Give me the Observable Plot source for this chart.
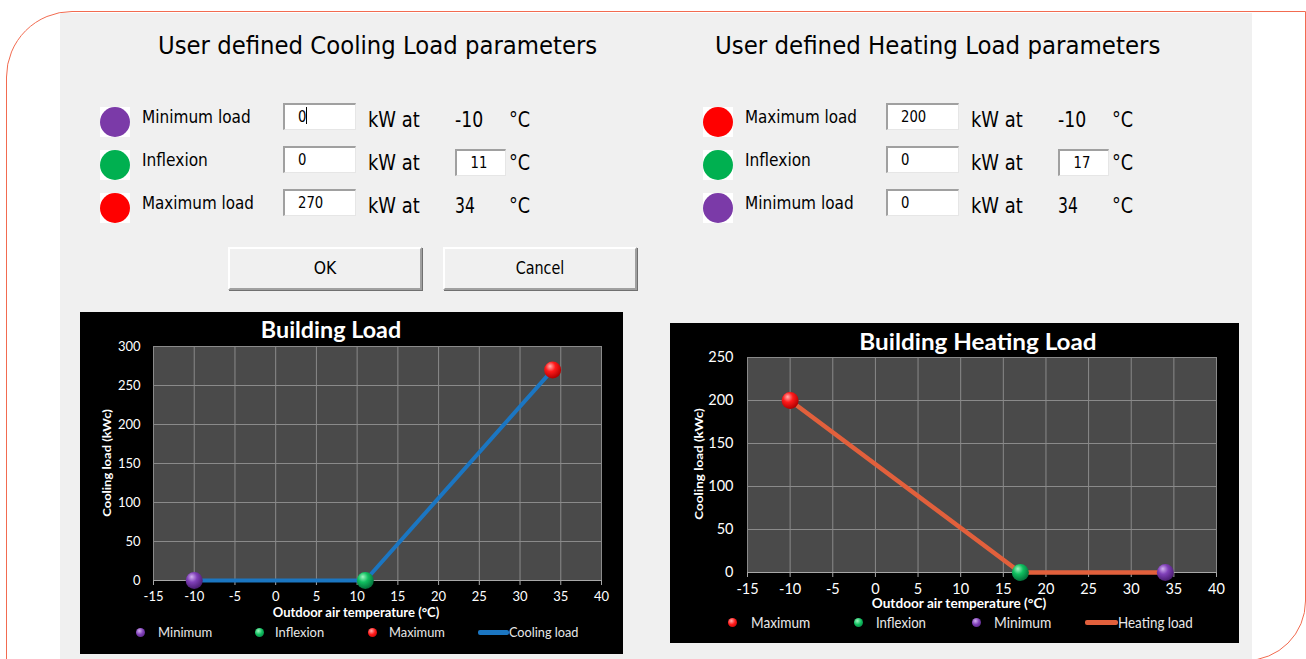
<!DOCTYPE html>
<html>
<head>
<meta charset="utf-8">
<script src="https://cdn.jsdelivr.net/npm/d3@7"></script>
<script src="https://cdn.jsdelivr.net/npm/@observablehq/plot@0.6"></script>
<style>
  body { margin:0; background:#fff; width:1306px; height:659px; overflow:hidden; position:relative; }
  .abs { position:absolute; }
  #border { left:6px; top:11px; width:1300px; height:650px; box-sizing:border-box; border:1.5px solid #f26b50; border-radius:66px 0 60px 0; }
  #panel { left:60px; top:13px; width:1192px; height:646px; background:#f0f0f0; }
  .txt { position:absolute; white-space:nowrap; line-height:1; }
  .input { position:absolute; background:#fff; box-sizing:border-box;
           border-top:2px solid #a0a0a0; border-left:2px solid #a0a0a0;
           border-right:1px solid #e6e6e6; border-bottom:1px solid #e6e6e6; }
  .btn { position:absolute; background:#f0f0f0; box-sizing:border-box;
         border-top:2px solid #ffffff; border-left:2px solid #ffffff;
         border-right:2px solid #a0a0a0; border-bottom:2px solid #a0a0a0;
         box-shadow:1px 1px 0 #707070; }
  .chartbox { position:absolute; background:#000; }
</style>
</head>
<body>
<div id="border" class="abs"></div>
<div id="panel" class="abs"></div>
<script>
// ---------------- data ----------------
const xTicks = [-15, -10, -5, 0, 5, 10, 15, 20, 25, 30, 35, 40];
const coolYTicks = [0, 50, 100, 150, 200, 250, 300];
const heatYTicks = [0, 50, 100, 150, 200, 250];

const coolPointNames = ["Minimum", "Inflexion", "Maximum"];
const coolTemps = [-10, 11, 34];
const coolLoads = [0, 0, 270];
const coolRowLabels = ["Minimum load", "Inflexion", "Maximum load"];
const coolLegend = ["Minimum", "Inflexion", "Maximum", "Cooling load"];

const heatPointNames = ["Maximum", "Inflexion", "Minimum"];
const heatTemps = [-10, 17, 34];
const heatLoads = [200, 0, 0];
const heatRowLabels = ["Maximum load", "Inflexion", "Minimum load"];
const heatLegend = ["Maximum", "Inflexion", "Minimum", "Heating load"];

const dialogTitles = ["User defined Cooling Load parameters", "User defined Heating Load parameters"];
const chartTitles = ["Building Load", "Building Heating Load"];
const yAxisLabel = "Cooling load (kWc)";
const xAxisLabel = "Outdoor air temperature (°C)";
const unitText = "kW at";
const degText = "°C";
const buttonLabels = ["OK", "Cancel"];

// ---------------- styles ----------------
const dialogFont = "'DejaVu Sans', Tahoma, sans-serif";
const chartFont = "Lato, 'Open Sans', sans-serif";
const dotColors = { Minimum: "#7b3aa8", Inflexion: "#00b050", Maximum: "#ff0000" };
const sphere = {
  Minimum:   ["#d2b0f0", "#8040b8", "#4a1c72"],
  Inflexion: ["#a0f5c0", "#10c060", "#03703a"],
  Maximum:   ["#ffb0b0", "#ff1a1a", "#b00000"]
};

const root = document.body;

function addText(parent, o) {
  const s = document.createElement("span");
  s.className = "txt";
  s.textContent = o.text;
  s.style.fontFamily = o.font;
  s.style.fontSize = o.size + "px";
  s.style.fontWeight = o.weight || 400;
  s.style.color = o.color || "#000";
  parent.appendChild(s);
  const nat = s.offsetWidth;
  const k = o.w ? o.w / nat : (o.k || 1);
  s.style.top = o.cy + "px";
  if (o.rot) {
    s.style.left = o.cx + "px";
    s.style.transformOrigin = "center";
    s.style.transform = `translate(-50%,-50%) rotate(-90deg) scaleX(${k})`;
  } else if (o.cx != null) {
    s.style.left = o.cx + "px";
    s.style.transformOrigin = "center";
    s.style.transform = `translate(-50%,-50%) scaleX(${k})`;
  } else {
    s.style.left = o.x + "px";
    s.style.transformOrigin = "left center";
    s.style.transform = `translateY(-50%) scaleX(${k})`;
  }
  return s;
}
function addDiv(parent, cls, l, t, w, h, extra) {
  const d = document.createElement("div");
  if (cls) d.className = cls;
  d.style.position = "absolute";
  d.style.left = l + "px"; d.style.top = t + "px";
  d.style.width = w + "px"; d.style.height = h + "px";
  if (extra) Object.assign(d.style, extra);
  parent.appendChild(d);
  return d;
}

// ---------------- dialogs ----------------
function dialog(cfg) {
  const dx = cfg.dx;
  addText(root, { text: cfg.title, x: cfg.titleX, cy: 46, size: 24, w: cfg.titleW, font: dialogFont });
  const rowTops = [103, 146, 189];
  cfg.rows.forEach((label, i) => {
    const top = rowTops[i];
    const sq = addDiv(root, null, 100 + dx, top + 4, 30, 30, { background: "#fff" });
    addDiv(sq, null, 0, 0, 30, 30, { background: dotColors[cfg.names[i]], borderRadius: "50%" });
    addText(root, { text: label, x: 142 + dx, cy: top + 14, size: 18, w: cfg.labelW[i], font: dialogFont });
    addDiv(root, "input", 283 + dx, top, 73, 27);
    addText(root, { text: String(cfg.loads[i]), x: 298 + dx, cy: top + 13.5, size: 15, k: 0.88, font: dialogFont });
    addText(root, { text: unitText, x: 368 + dx, cy: top + 16.5, size: 21, w: 52, font: dialogFont });
    if (i === 1) {
      addDiv(root, "input", 455 + dx, top + 3, 51, 27);
      addText(root, { text: String(cfg.temps[i]), cx: 479 + dx, cy: top + 17, size: 15, k: 0.88, font: dialogFont });
    } else {
      const t = String(cfg.temps[i]);
      addText(root, { text: t, x: 455 + dx, cy: top + 16.5, size: 21, w: t.length === 3 ? 28 : 20, font: dialogFont });
    }
    addText(root, { text: degText, x: 509 + dx, cy: top + 16.5, size: 21, w: 21, font: dialogFont });
  });
}
dialog({ dx: 0, title: dialogTitles[0], titleX: 158, titleW: 439, rows: coolRowLabels, names: coolPointNames,
         loads: coolLoads, temps: coolTemps, labelW: [109, 66, 112] });
dialog({ dx: 603, title: dialogTitles[1], titleX: 715, titleW: 445, rows: heatRowLabels, names: heatPointNames,
         loads: heatLoads, temps: heatTemps, labelW: [112, 66, 109] });
// text cursor in the first field
addDiv(root, null, 306, 107, 1, 17, { background: "#000" });
// buttons
addDiv(root, "btn", 228, 247, 194, 43);
addDiv(root, "btn", 443, 247, 194, 43);
addText(root, { text: buttonLabels[0], cx: 325, cy: 267.5, size: 17, w: 23, font: dialogFont });
addText(root, { text: buttonLabels[1], cx: 540, cy: 267.5, size: 17, w: 49, font: dialogFont });

// ---------------- charts ----------------
function chart(cfg) {
  const box = addDiv(root, "chartbox", cfg.left, cfg.top, cfg.width, cfg.height);
  const pts = cfg.names.map((n, i) => ({ name: n, t: cfg.temps[i], load: cfg.loads[i] }));
  const linePts = [...pts].sort((a, b) => a.t - b.t);
  const defs = () => {
    const d = d3.create("svg:defs");
    for (const n of Object.keys(sphere)) {
      const g = d.append("radialGradient").attr("id", `${cfg.id}-${n}`)
        .attr("cx", "40%").attr("cy", "35%").attr("r", "65%").attr("fx", "35%").attr("fy", "28%");
      g.append("stop").attr("offset", "0%").attr("stop-color", sphere[n][0]);
      g.append("stop").attr("offset", "45%").attr("stop-color", sphere[n][1]);
      g.append("stop").attr("offset", "100%").attr("stop-color", sphere[n][2]);
    }
    return d.node();
  };
  const fmt = d => String(d);
  const plot = Plot.plot({
    width: cfg.width, height: cfg.height,
    marginLeft: cfg.m[0], marginRight: cfg.m[1], marginTop: cfg.m[2], marginBottom: cfg.m[3],
    style: { background: "transparent", color: "#fff", fontFamily: chartFont, overflow: "visible" },
    x: { domain: [-15, 40] },
    y: { domain: [0, cfg.ymax] },
    marks: [
      defs,
      Plot.frame({ fill: "#4a4a4a", stroke: null }),
      Plot.gridX(xTicks, { stroke: "#8a8a8a", strokeOpacity: 1, strokeWidth: 1 }),
      Plot.gridY(cfg.yTicks, { stroke: "#8a8a8a", strokeOpacity: 1, strokeWidth: 1 }),
      Plot.ruleY([0], { stroke: "#a8a8a8", strokeWidth: 1.2 }),
      Plot.axisX(xTicks, { tickSize: 5, tickPadding: cfg.xPad, stroke: "#a8a8a8", fill: "#fff",
                           fontSize: cfg.tickSize, tickFormat: fmt, label: null }),
      Plot.axisY(cfg.yTicks, { tickSize: 0, tickPadding: cfg.yPad, fill: "#fff",
                               fontSize: cfg.tickSize, tickFormat: fmt, label: null }),
      Plot.line(linePts, { x: "t", y: "load", stroke: cfg.lineColor, strokeWidth: cfg.lineWidth,
                           strokeLinecap: "round", strokeLinejoin: "round" }),
      ...pts.map(p => Plot.dot([p], { x: "t", y: "load", r: 8.5, fill: `url(#${cfg.id}-${p.name})`, stroke: null }))
    ]
  });
  plot.style.position = "absolute";
  plot.style.left = "0px";
  plot.style.top = "0px";
  box.appendChild(plot);

  addText(box, { text: cfg.title, cx: cfg.titlePos[0], cy: cfg.titlePos[1], size: 22, weight: 700,
                 w: cfg.titlePos[2], color: "#fff", font: chartFont });
  addText(box, { text: yAxisLabel, cx: cfg.yLabPos[0], cy: cfg.yLabPos[1], size: 12, weight: 700, rot: true,
                 w: cfg.yLabPos[2], color: "#fff", font: chartFont });
  addText(box, { text: xAxisLabel, cx: cfg.xLabPos[0], cy: cfg.xLabPos[1], size: 13, weight: 700,
                 w: cfg.xLabPos[2], color: "#fff", font: chartFont });
  // legend
  const ly = cfg.legendY;
  cfg.legend.forEach((lab, i) => {
    const L = cfg.legendPos[i];
    if (i < 3) {
      const c = sphere[lab];
      addDiv(box, null, L[0] - 4.5, ly - 4.5, 9, 9, {
        borderRadius: "50%",
        background: `radial-gradient(circle at 38% 32%, ${c[0]} 0%, ${c[1]} 45%, ${c[2]} 100%)`
      });
    } else {
      addDiv(box, null, L[0], ly - 2.5, L[3], 5, { background: cfg.lineColor, borderRadius: "2px" });
    }
    addText(box, { text: lab, x: L[1], cy: ly, size: cfg.legendSize, w: L[2], color: "#e8e8e8", font: chartFont });
  });
}

chart({
  id: "cool", left: 80, top: 312, width: 543, height: 342, m: [73, 22, 34, 74],
  ymax: 300, yTicks: coolYTicks, names: coolPointNames, temps: coolTemps, loads: coolLoads,
  lineColor: "#1b76c2", lineWidth: 4, tickSize: 13, xPad: 6, yPad: 13,
  title: chartTitles[0], titlePos: [251, 18, 140], yLabPos: [27, 151, 108], xLabPos: [276, 300, 167],
  legend: coolLegend, legendY: 320, legendSize: 14,
  legendPos: [[60, 78, 54], [179, 195, 49], [292, 309, 56], [398, 429, 69, 31]]
});
chart({
  id: "heat", left: 670, top: 323, width: 569, height: 320, m: [77, 23, 34, 71],
  ymax: 250, yTicks: heatYTicks, names: heatPointNames, temps: heatTemps, loads: heatLoads,
  lineColor: "#e2603c", lineWidth: 4.5, tickSize: 14.5, xPad: 6, yPad: 14,
  title: chartTitles[1], titlePos: [308, 19, 237], yLabPos: [29, 141, 112], xLabPos: [289, 280, 175],
  legend: heatLegend, legendY: 299, legendSize: 15,
  legendPos: [[62, 81, 59], [188, 206, 50], [306, 324, 57], [415, 448, 75, 33]]
});
</script>
</body>
</html>
